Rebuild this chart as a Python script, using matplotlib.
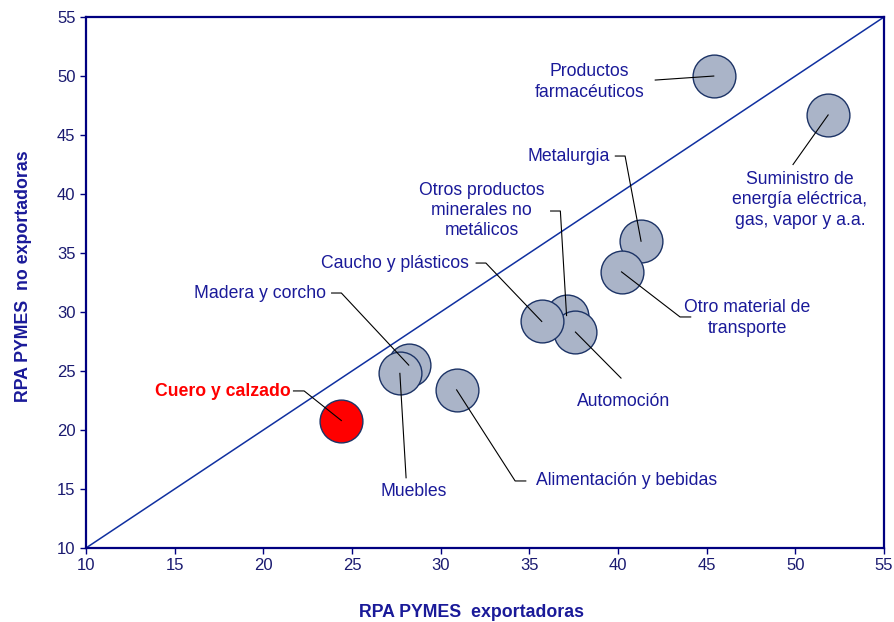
import matplotlib
matplotlib.use("Agg")
import matplotlib.pyplot as plt

plt.rcParams['font.family'] = ['Liberation Sans', 'DejaVu Sans']

# Sector data: RPA exporters (x) vs non exporters (y)
sectores = ['Productos\nfarmacéuticos',
            'Suministro de\nenergía eléctrica,\ngas, vapor y a.a.',
            'Metalurgia',
            'Otro material de\ntransporte',
            'Otros productos\nminerales no\nmetálicos',
            'Automoción',
            'Caucho y plásticos',
            'Madera y corcho',
            'Muebles',
            'Alimentación y bebidas',
            'Cuero y calzado']
rpa_export = [45.4, 51.85, 41.3, 40.2, 37.1, 37.6, 35.7, 28.2, 27.7, 30.9, 24.4]
rpa_no_export = [50.0, 46.7, 36.0, 33.4, 29.7, 28.3, 29.2, 25.5, 24.8, 23.4, 20.8]

# label text position and leader-line elbow (data units)
label_xy = [(38.4, 49.5), (50.26, 39.5), (37.2, 43.2), (47.3, 29.5),
            (32.3, 38.6), (40.3, 22.4), (27.4, 34.15), (19.8, 31.6),
            (28.5, 14.75), (40.5, 15.7), (17.7, 23.3)]
elbow_a = [(42.1, 49.66), (49.87, 42.5), (39.85, 43.22), (44.1, 29.58),
           (36.2, 38.56), (40.17, 24.4), (32.0, 34.15), (23.85, 31.61),
           (28.05, 15.95), (34.8, 15.68), (21.7, 23.31)]
elbow_b = [(42.1, 49.66), (49.87, 42.5), (40.4, 43.22), (43.5, 29.58),
           (36.75, 38.56), (40.17, 24.4), (32.55, 34.15), (24.4, 31.61),
           (28.05, 15.95), (34.2, 15.68), (22.3, 23.31)]

navy = '#1a1a99'
axis_col = '#000080'

fig = plt.figure(figsize=(8.94, 6.22), dpi=100)
ax = fig.add_axes([0.0962, 0.119, 0.8926, 0.8536])
ax.set_xlim(10, 55)
ax.set_ylim(10, 55)

ax.plot([10, 55], [10, 55], color='#1030a0', lw=1.1, zorder=1)

colors = ['#aab4c8'] * (len(sectores) - 1) + ['#ff0000']
for i in range(len(sectores)):
    x, y = rpa_export[i], rpa_no_export[i]
    ax.scatter(x, y, s=950, color=colors[i], edgecolor='#1c3366',
               linewidth=1.0, zorder=2 + i * 0.01)

for i in range(len(sectores)):
    x, y = rpa_export[i], rpa_no_export[i]
    ax.plot([elbow_a[i][0], elbow_b[i][0], x], [elbow_a[i][1], elbow_b[i][1], y],
            color='black', lw=0.8, zorder=5)
    last = i == len(sectores) - 1
    ax.text(label_xy[i][0], label_xy[i][1], sectores[i], ha='center', va='center',
            fontsize=12.7, color='#ff0000' if last else navy,
            fontweight='bold' if last else 'normal', linespacing=1.25, zorder=6)

ax.set_xticks(range(10, 56, 5))
ax.set_yticks(range(10, 56, 5))
ax.tick_params(direction='out', length=4, color=axis_col, labelcolor='#1a1a70',
               labelsize=12, width=1)
for sp in ax.spines.values():
    sp.set_color(axis_col)
    sp.set_linewidth(1.6)

ax.set_xlabel('RPA PYMES  exportadoras', fontsize=12.8, fontweight='bold',
              color=navy, labelpad=22)
ax.set_ylabel('RPA PYMES  no exportadoras', fontsize=12.8, fontweight='bold',
              color=navy, labelpad=18)
ax.xaxis.label.set_x(0.4825)
ax.yaxis.label.set_y(0.512)

fig.savefig('out.png', dpi=100)
